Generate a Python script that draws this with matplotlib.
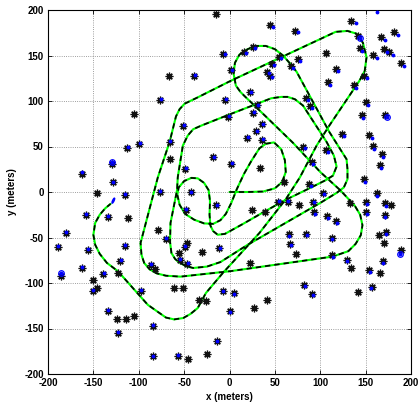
import matplotlib
matplotlib.use('Agg')
import matplotlib.pyplot as plt
from matplotlib.patches import Ellipse

# ---------------- data ----------------
# vehicle path (true = green, estimated = black dashed)
path_x = [0, 20, 37, 50, 58, 62, 61, 57, 49, 40, 33,
          24, 16, 8, 2, -4, -10, -18,
          -28, -39, -49, -55, -57.5, -56, -50, -42, -35, -28, -23, -21.5, -22, -21, -18, -13,
          -5, 15, 36.5, 61.5, 90, 106, 114, 118, 115,
          107, 81, 72, 64, 57,
          46, 2, -31, -40, -46, -51.4,
          -57, -57.8, -65, -65.5, -64, -60, -56, -48, -40,
          -25, -10,
          20, 60, 100, 118, 126, 130,
          130, 129, 110, 74, 66, 59, 50, 40, 30, 20, 11, 6, 4.5, 7, 12, 17,
          40, 70, 100, 122, 138,
          144, 146.5, 144.7, 139, 131, 113.5,
          1, -54, -70, -80, -88, -94, -97, -98,
          -79, -66, -59, -55, -49.5, -35,
          2, 117,
          130, 140, 147, 151, 149, 143,
          110, 96, 77.5, 62, 33, -7, -26, -35, -43, -51, -61, -70,
          -90, -123, -135, -143, -148, -150, -148, -143, -137, -131]
path_y = [0, 0, 0.5, 4, 11, 22, 35, 47, 54.5, 53, 48,
          34, 20, 3, -12, -24, -31, -35,
          -34.5, -30.4, -24, -14, -3, 5, 12, 15.5, 15, 10, 2, -10, -25, -37, -43, -47,
          -46, -35, -22.7, -8.8, 5, 13, 18, 28, 40,
          55, 95, 102, 104.5, 104.5,
          103, 86, 73, 69, 62, 51,
          16.3, 2, -34, -55, -67, -73.5, -77, -81.5, -83.5,
          -82, -77,
          -58, -35, -12, -1, 5, 14,
          25, 36, 66, 132, 142, 150, 157, 160.5, 160.5, 157, 151, 142, 130, 117, 110, 105,
          83, 54, 22, 2, -15,
          -25, -36.5, -47.4, -57, -65, -71,
          -87, -93, -92, -89.5, -85, -78, -69, -56,
          16, 55, 83, 91, 97, 104,
          122.5, 176,
          177, 174, 164, 148, 133, 122,
          73, 51, 16, -8, -45, -88.6, -111, -127.5, -134, -138.5, -140, -138,
          -124, -87, -78, -68, -58, -47, -34, -25, -18, -13]

# true landmarks (black asterisks)
lm_x = [-162, -146.5, -129, -128.5, -113.4, -105, -99.4, -115, -77, -66.8, -39.6, -7.2, -14.6, 2, -5,
        -1.8, -51.5, -66, -66, -18.2, -48.8, 2, -77, -42.7,
        45, 72.5, 134.3, 142, 167, 181.8, 170, 176, 158, 188.7, 144, 26, 16.2, 55, 75.2, 106.3,
        46.3, 68, 40.8, 44.5, 117.3, 148.7, 137.5, 108.5, 22.2, 30, 26, 84, 88.6, 150.5, 145.6,
        171.5, 35.9, 29.2, 19.8, 35.5, 123.9, 154.2, 157.8, 167.9, 165.3, 106.7, 81.2, 90.7, 33.2,
        148, 60.3, 87.8, 103.3, 162,
        -14.8, 25, 39.6, 53, 64, 76.4, 92, 132.5, 150.5, 150.5, 171.5, 178, 93, 107, 117, 171.5,
        65.4, 84.1, 112.5, 67.2, 73.2, 113.4, 129.3, 133.5, 153.9, 165.3, 169, 165, 172.6, 169.7,
        188.7, 22.8, 82.2, 91, 141.3, 156.9, 4.8, 41.7, 27.5, 0.5,
        -11.5, -48, -134, -111.8, -158, -78.8, -70, -49.5, -46.5, -56, -55, -30, -115.5, -156.2,
        -180, -188.5, -120.2, -86.9, -82, -46.4, -162.8, -185.5, -138.9, -122.4, -150, -150.2,
        -146.3, -97.5, -61.2, -51.1, -33.5, -26.4, -7.7, -134, -124, -114.5, -104.8, -123.3,
        -84.8, -84, -56.6, -45.6, -25, -13.5]
lm_y = [20, -1.5, 31, 10.5, 48.3, 85.5, 52.2, -3, 100.8, 127.5, 128, 152, 195.6, 134, 101,
        82.5, 73, 54.5, 36.2, 38.3, 25.8, 31, 0.5, 0,
        183.3, 177.3, 188.3, 171, 170.7, 176.2, 157, 154, 150.6, 142.2, 158, 159.5, 153.7, 148.5,
        146.6, 152.2, 140.8, 138.5, 131.7, 128, 135.3, 127.5, 117.4, 120.7, 110, 96, 87.3, 103,
        94.8, 98.7, 84.1, 84.8, 74.8, 66.5, 59.5, 57.6, 64, 62.5, 50.8, 42, 29.3, 46, 49.3, 32.8,
        26.5, 14.3, 11.3, 8.4, -0.6, -1,
        -14.6, -20, -22, -10.5, -10.5, -14.6, -11, -12, -11, -21.5, -12, -14.6, -22.5, -26.5,
        -32.3, -25.5, -46.2, -46.5, -50.2, -57, -68.6, -69.3, -74.8, -83.9, -85.8, -89.4, -75.9,
        -47.4, -43.8, -55.8, -63.9, -78.5, -101.8, -112, -110.4, -104, -111, -118.6, -127.7,
        -131.2,
        -61.3, -19.8, -27, -28.5, -25.5, -41.7, -52, -60.5, -55.5, -67, -75, -66, -59.6, -63.7,
        -45, -60.2, -75.7, -79.7, -84.6, -79, -83.9, -92.3, -90.1, -88.8, -96.2, -109, -105.5,
        -108.4, -105.6, -105.6, -119, -120.2, -109.3, -131, -139.5, -140, -135.8, -154.4,
        -146.8, -180.7, -179.9, -183.6, -177.7, -164.2]

# estimated landmarks (blue dots)
est_x = [-162, -129, -128, -112, -98.5, -115, -76, -37.5, -5.5, 3, -4, -1, -50.5, -65.5, -17.5,
         -48, 2.5, -76.5, -42,
         47.5, 75.5, 139, 143.5, 171, 186, 174, 180, 162, 192.5, 146, 28.5, 18.5, 57, 78, 48.5,
         70.5, 43, 46.5, 120, 151, 139.5, 111, 24, 31, 27, 86, 90.5, 152.5, 147.5, 173.5, 37, 30,
         20.5, 36.5, 126, 156.5, 159.5, 169.5, 166.5, 108.5, 83, 92.5, 149.5, 89.5, 104.5, 163,
         162.5,
         -14, 54, 65, 93.5, 152, 152, 172.5, 94.5, 108.5, 118.5, 171.5, 66, 85, 113, 68, 114,
         130, 155, 169.5, 172.5, 187.5, 83, 91.5, 156, 5, 0.5,
         -11, -47.5, -134, -158, -69.5, -49, -55, -46, -115, -156, -180, -188.5, -120, -86.5,
         -163, -185.5, -138.5, -150, -97, -7.5, -134, -123, -84.5, -84, -56.5, -13.5]
est_y = [22, 33.5, 11, 49.5, 53.5, -2.5, 102, 129, 152, 134, 102, 83, 74, 55.5, 39,
         26.5, 31.5, 1, 0.5,
         181, 176, 186, 169, 167, 173, 154, 151, 147, 138.5, 155, 158.5, 153, 147, 144.5, 139.5,
         136, 131, 126.5, 133, 125, 114, 118, 110, 96, 87.5, 101, 92.5, 95.5, 81, 82, 75, 67,
         60, 58, 62, 59.5, 47.5, 39, 26, 44, 48, 31, 11, 7, -2, -4,
         198,
         -14, -9.5, -10, -11.5, -13, -24, -15, -24, -28.5, -34.5, -28, -48, -47, -52, -58.5, -71,
         -76, -87.5, -78, -46, -68.5, -103, -113.5, -106, -112, -132,
         -61, -19, -26, -24.5, -51, -59, -74, -78, -58.5, -62.5, -43.5, -59, -74.5, -79,
         -82.5, -88.5, -89, -108, -107.5, -108.5, -130, -153.5, -146, -180, -179.5, -163.5]

# landmarks drawn with an uncertainty circle
circ_x = [-129, 143.5, -185.5, 187.5, 173.5]
circ_y = [33.5, 169, -88.5, -68.5, 82]

ticks = [-200, -150, -100, -50, 0, 50, 100, 150, 200]
tick_labels = ['-200', '-150', '-100', '-50', '0', '50', '100', '150', '200']

# ---------------- figure ----------------
plt.rcParams['font.family'] = ['Liberation Sans', 'DejaVu Sans']
fig = plt.figure(figsize=(4.18, 4.03), dpi=100)
ax = fig.add_axes([48 / 418, 1 - 374 / 403, (411 - 48) / 418, (374 - 10) / 403])

ax.plot(lm_x, lm_y, ls='none', marker=(8, 2, 0), ms=5.5, mew=0.9, color='#111111', zorder=5)
ax.plot(est_x, est_y, ls='none', marker='.', ms=3.5, color='b', zorder=6)
ax.plot(circ_x, circ_y, ls='none', marker='o', ms=4, mfc='none', mec='b', mew=0.9, zorder=6)

ax.plot(path_x, path_y, color=(0, 1, 0), lw=1.5, zorder=3, solid_capstyle='round')
ax.plot(path_x, path_y, color='k', lw=1.2, ls=(0, (3.2, 2.4)), zorder=4)

ax.add_patch(Ellipse((-128, -9.5), width=1.6, height=6, angle=-25,
                     edgecolor='b', facecolor='none', lw=1.0, zorder=7))

ax.set_xlim(-200, 200)
ax.set_ylim(-200, 200)
ax.set_xticks(ticks)
ax.set_yticks(ticks)
ax.set_xticklabels(tick_labels, fontsize=7, fontweight='bold')
ax.set_yticklabels(tick_labels, fontsize=7, fontweight='bold')
ax.tick_params(axis='x', direction='in', length=3, width=0.6, top=True, pad=3)
ax.tick_params(axis='y', direction='in', length=3, width=0.6, right=True, pad=3)
ax.grid(True, ls=':', color='#7f7f7f', lw=0.6)
for s in ax.spines.values():
    s.set_linewidth(0.8)
ax.set_xlabel('x (meters)', fontsize=7, fontweight='bold', labelpad=3)
ax.set_ylabel('y (meters)', fontsize=7, fontweight='bold', labelpad=5)

fig.savefig('out.png', dpi=100)
